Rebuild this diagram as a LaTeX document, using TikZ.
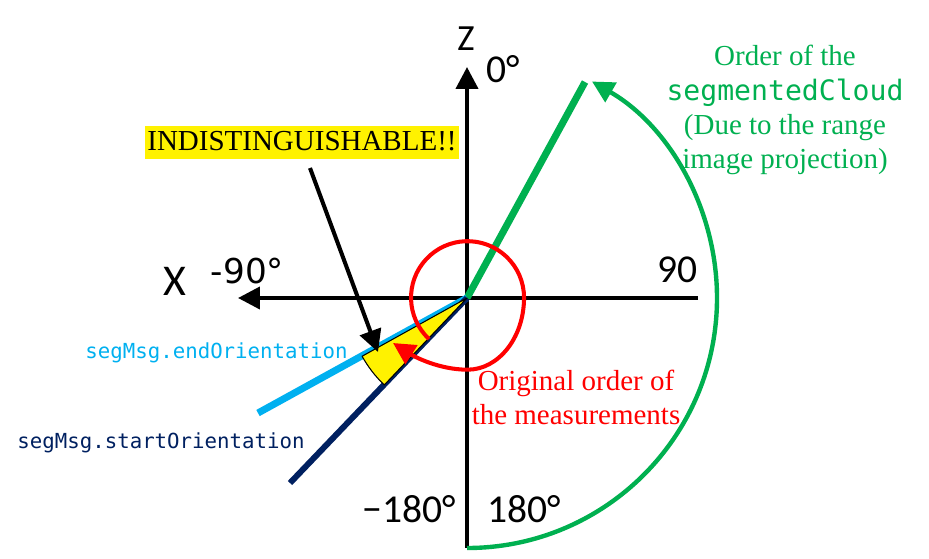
\documentclass[tikz,border=0pt]{standalone}
\usepackage{fontspec}
\setmainfont{Liberation Serif}
\setmonofont{DejaVu Sans Mono}
\newfontfamily\calibrifont{Carlito}
\newfontfamily\dejavufont{DejaVu Sans}
\usetikzlibrary{arrows.meta, calc}
\definecolor{pptgreen}{HTML}{00B050}
\definecolor{pptcyan}{HTML}{00B0F0}
\definecolor{pptnavy}{HTML}{002060}
\tikzset{
  >={Triangle[length=12.5pt,width=12.5pt]},
  axis/.style={line width=2.3pt, black},
  ray/.style={line width=4pt},
  anglabel/.style={font=\calibrifont\fontsize{22.5}{27}\selectfont, anchor=base, inner sep=0pt},
  note/.style={font=\fontsize{16.5}{19.4}\selectfont, align=center, inner sep=0pt},
  codelabel/.style={font=\ttfamily\fontsize{11.8}{14}\selectfont, anchor=base, inner sep=0pt}
}
\begin{document}
\begin{tikzpicture}[x=0.02cm,y=-0.02cm]
\useasboundingbox (0,0) rectangle (929,558);
\coordinate (O) at (467,298);
\coordinate (ztop) at (467,67);
\coordinate (zbot) at (467,548);
\coordinate (xleft) at (238,298);
\coordinate (xright) at (698,298);
\coordinate (greenend) at (585,82);
\coordinate (cyanend) at (258,413);
\coordinate (navyend) at (290,483);
\coordinate (redstart) at (429,339);
\coordinate (redtip) at (393,343);
\draw[axis,->] (zbot) -- (ztop);
\draw[axis,->] (xright) -- (xleft);
\draw[pptgreen, line width=2.5pt, ->] (zbot) arc[start angle=90, end angle=-60, radius=250];
\draw[ray, pptgreen] (O) -- (greenend);
\draw[ray, pptcyan] (O) -- (cyanend);
\draw[ray, pptnavy, line width=3.4pt] (O) -- (navyend);
\draw[fill=yellow, line width=0.6pt, line join=round] (O) -- ++(150.97:120)
      arc[start angle=150.97, end angle=133.58, radius=120] -- cycle;
\draw[red, line width=2.3pt, ->] (redstart) arc[start angle=133, end angle=360, radius=56.5]
      arc[start angle=0, end angle=90, x radius=56.5, y radius=72]
      .. controls +(-28,0) and +(22,14) .. (redtip);
\node[fill=yellow, inner xsep=1.5pt, inner ysep=0pt, text height=13.5pt, text depth=5.3pt,
      font=\fontsize{16.5}{19.4}\selectfont, anchor=base] (indist) at (302,150) {INDISTINGUISHABLE!!};
\coordinate (indistfoot) at (310,168);
\coordinate (wedgepoint) at (378,352);
\draw[axis,->] (indistfoot) -- (wedgepoint);
\node[anglabel, font=\calibrifont\fontsize{21}{25}\selectfont] (zlabel) at (466,50) {Z};
\node[anglabel] (zerolabel) at (503,82) {0°};
\node[anglabel, font=\calibrifont\fontsize{25}{30}\selectfont] (xlabel) at (175,295) {X};
\node[anglabel, font=\dejavufont\fontsize{19.5}{23}\selectfont] (neglabel) at (247.5,283) {-90°};
\node[anglabel] (poslabel) at (677.5,282) {90};
\node[anglabel] (minuslabel) at (409,522) {−180°};
\node[anglabel] (pluslabel) at (524,522) {180°};
\node[codelabel, text=pptcyan] (endlabel) at (216.5,358) {segMsg.endOrientation};
\node[codelabel, text=pptnavy] (startlabel) at (161,448) {segMsg.startOrientation};
\node[note, text=red] (origlabel) at (576,397) {Original order of\\the measurements};
\node[note, text=pptgreen] (orderlabel) at (785,110) {Order of the\\{\ttfamily\fontsize{16}{19.4}\selectfont segmentedCloud}\\(Due to the range\\image projection)};
\end{tikzpicture}
\end{document}
